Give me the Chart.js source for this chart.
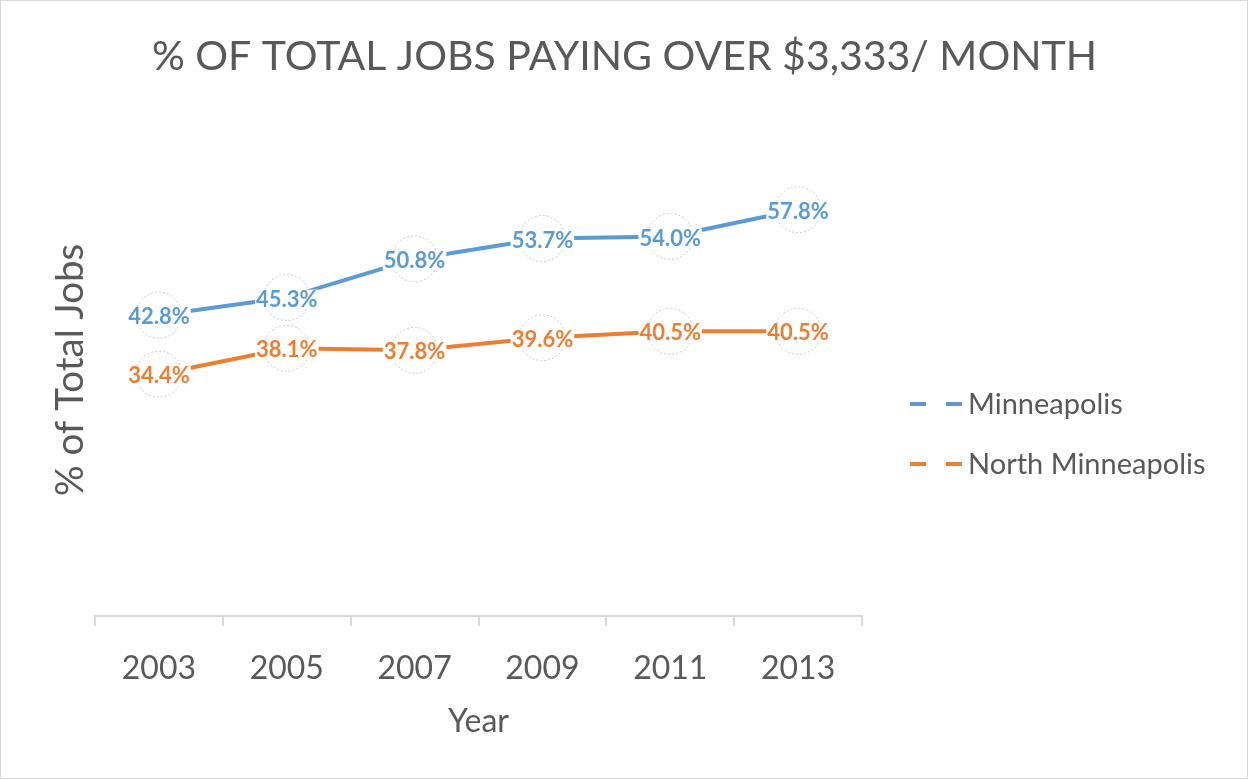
<!DOCTYPE html>
<html>
<head>
<meta charset="utf-8">
<title>% of total jobs paying over $3,333/month</title>
<script src="https://cdn.jsdelivr.net/npm/chart.js@4.4.1/dist/chart.umd.min.js"></script>
<style>
    html, body { margin: 0; padding: 0; background: #ffffff; }
    #wrap { width: 1249px; height: 780px; position: relative; }
</style>
</head>
<body>
<div id="wrap"><canvas id="jobsChart" width="1249" height="780"></canvas></div>
<script>
// Data
const years = ['2003', '2005', '2007', '2009', '2011', '2013'];
const minneapolis = [42.8, 45.3, 50.8, 53.7, 54.0, 57.8];
const northMinneapolis = [34.4, 38.1, 37.8, 39.6, 40.5, 40.5];
const seriesNames = ['Minneapolis', 'North Minneapolis'];
const seriesColors = ['#5b9bd5', '#ed7d31'];
const yRange = [0, 70];
const chartTitle = '% OF TOTAL JOBS PAYING OVER $3,333/ MONTH';

const FONT = 'Lato, Carlito, "Open Sans", sans-serif';
const TEXT_GRAY = '#595959';
const AXIS_GRAY = '#d9d9d9';

// dashed circles + value labels, like the excel data callouts
const calloutPlugin = {
    id: 'callouts',
    afterDatasetsDraw(chart) {
        const ctx = chart.ctx;
        chart.data.datasets.forEach((ds, i) => {
            const meta = chart.getDatasetMeta(i);
            meta.data.forEach(pt => {
                ctx.save();
                ctx.beginPath();
                ctx.setLineDash([2, 2]);
                ctx.lineWidth = 1;
                ctx.strokeStyle = '#c9c9c9';
                ctx.arc(pt.x, pt.y, 23, 0, Math.PI * 2);
                ctx.stroke();
                ctx.restore();
            });
        });
        chart.data.datasets.forEach((ds, i) => {
            const meta = chart.getDatasetMeta(i);
            meta.data.forEach((pt, j) => {
                const txt = ds.data[j].toFixed(1) + '%';
                ctx.save();
                ctx.font = 'bold 22px ' + FONT;
                const w = ctx.measureText(txt).width;
                ctx.fillStyle = '#ffffff';
                ctx.fillRect(pt.x - w / 2 - 1, pt.y - 8, w + 2, 19);
                ctx.fillStyle = ds.borderColor;
                ctx.textAlign = 'center';
                ctx.textBaseline = 'middle';
                ctx.fillText(txt, pt.x, pt.y + 2);
                ctx.restore();
            });
        });
    },
    afterDraw(chart) {
        const ctx = chart.ctx;
        const area = chart.chartArea;
        // title, centred on the whole picture
        ctx.save();
        ctx.fillStyle = TEXT_GRAY;
        ctx.font = '41px ' + FONT;
        ctx.textAlign = 'center';
        ctx.textBaseline = 'middle';
        ctx.fillText(chartTitle, chart.width / 2, 57);
        ctx.restore();
        // legend on the right, dashed samples
        chart.data.datasets.forEach((ds, i) => {
            const y = 404 + i * 60;
            const x0 = area.right + 48;
            ctx.save();
            ctx.strokeStyle = ds.borderColor;
            ctx.lineWidth = 4;
            ctx.setLineDash([16, 20]);
            ctx.beginPath();
            ctx.moveTo(x0, y);
            ctx.lineTo(x0 + 54, y);
            ctx.stroke();
            ctx.setLineDash([]);
            ctx.fillStyle = TEXT_GRAY;
            ctx.font = '29px ' + FONT;
            ctx.textBaseline = 'middle';
            ctx.fillText(ds.label, x0 + 58, y + 1);
            ctx.restore();
        });
        // outer chart border
        ctx.save();
        ctx.strokeStyle = AXIS_GRAY;
        ctx.lineWidth = 1;
        ctx.strokeRect(0.5, 0.5, chart.width - 2, chart.height - 2);
        ctx.restore();
    }
};

const ctx = document.getElementById('jobsChart');
new Chart(ctx, {
    type: 'line',
    data: {
        labels: years,
        datasets: [
            {
                label: seriesNames[0],
                data: minneapolis,
                borderColor: seriesColors[0],
                backgroundColor: seriesColors[0],
                borderWidth: 4,
                pointRadius: 0,
                tension: 0
            },
            {
                label: seriesNames[1],
                data: northMinneapolis,
                borderColor: seriesColors[1],
                backgroundColor: seriesColors[1],
                borderWidth: 4,
                pointRadius: 0,
                tension: 0
            }
        ]
    },
    options: {
        responsive: false,
        animation: false,
        layout: { padding: { left: 0, right: 387, top: 124, bottom: 0 } },
        plugins: {
            legend: { display: false },
            tooltip: { enabled: false },
            title: { display: false }
        },
        scales: {
            x: {
                offset: true,
                grid: {
                    offset: true,
                    drawOnChartArea: false,
                    drawTicks: true,
                    tickLength: 10,
                    color: AXIS_GRAY,
                    lineWidth: 2
                },
                border: { display: true, color: AXIS_GRAY, width: 2 },
                ticks: {
                    color: TEXT_GRAY,
                    padding: 23,
                    font: { family: FONT, size: 32 }
                },
                title: {
                    display: true,
                    text: 'Year',
                    color: TEXT_GRAY,
                    font: { family: FONT, size: 32 },
                    padding: { top: 0, bottom: 39 }
                },
                afterFit: s => { s.height = 164; }
            },
            y: {
                min: yRange[0],
                max: yRange[1],
                grid: { display: false },
                border: { display: false },
                ticks: { display: false },
                title: {
                    display: true,
                    text: '% of Total Jobs',
                    color: TEXT_GRAY,
                    font: { family: FONT, size: 38.5 },
                    padding: { top: 47, bottom: 0 }
                },
                afterFit: s => { s.width = 95; }
            }
        }
    },
    plugins: [calloutPlugin]
});
</script>
</body>
</html>
